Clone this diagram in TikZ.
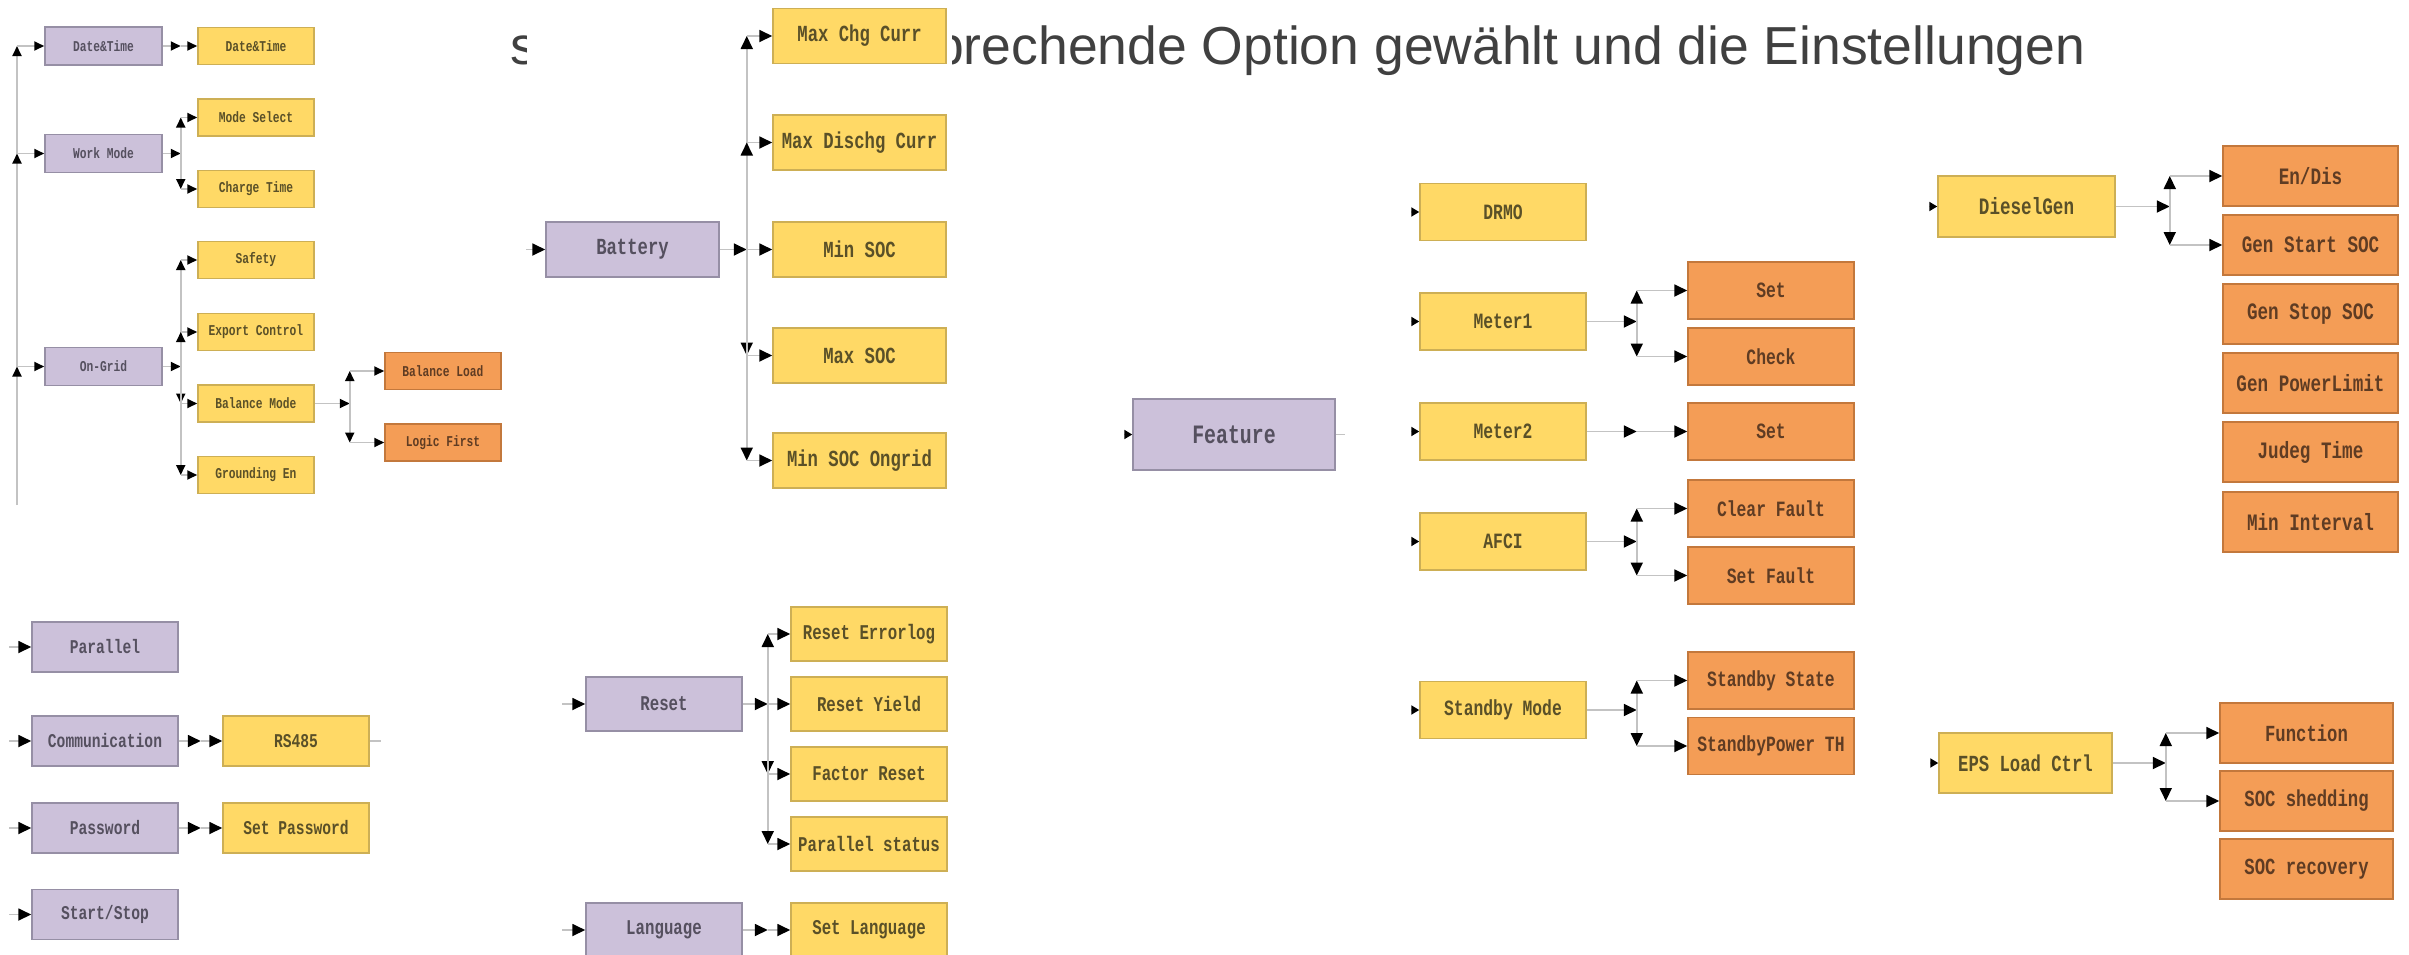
\documentclass[tikz,border=0pt]{standalone}
\usepackage{fontspec}
\setmainfont{Liberation Sans}
\newfontfamily\menufont{Liberation Mono}[FakeStretch=0.75]
\usetikzlibrary{arrows.meta, positioning}
\definecolor{menupurple}{RGB}{204,193,218}
\definecolor{menuedge}{RGB}{150,143,165}
\definecolor{itemyellow}{RGB}{255,217,102}
\definecolor{itemedge}{RGB}{205,175,85}
\definecolor{suborange}{RGB}{244,157,86}
\definecolor{subedge}{RGB}{195,120,60}
\definecolor{linegray}{RGB}{195,195,195}
\definecolor{captiongray}{RGB}{64,64,64}
\definecolor{menutext}{RGB}{85,80,95}
\definecolor{itemtext}{RGB}{90,80,40}
\definecolor{subtext}{RGB}{95,60,35}

\begin{document}
\begin{tikzpicture}[x=1pt, y=-1pt,
  >={Triangle[length=13pt, width=12pt, color=black]},
  box/.style={draw, line width=1.5pt, inner sep=0pt},
  menu/.style={box, fill=menupurple, draw=menuedge, text=menutext},
  item/.style={box, fill=itemyellow, draw=itemedge, text=itemtext},
  sub/.style={box, fill=suborange, draw=subedge, text=subtext},
  boxsize/.style n args={3}{minimum width=#1pt, minimum height=#2pt,
    font=\menufont\bfseries\fontsize{#3}{#3}\selectfont},
  conn/.style={->, draw=linegray, line width=1.8pt},
  stub/.style={draw=linegray, line width=1.8pt},
  smalltip/.style={>={Triangle[length=10pt, width=9pt, color=black]}},
  nubtip/.style={>={Triangle[length=8pt, width=9pt, color=black]}},
  caption/.style={anchor=base west, inner sep=0pt, text=captiongray,
    font=\fontsize{53.5}{53.5}\selectfont}]
\useasboundingbox (0,0) rectangle (2409,954);

% caption behind the menus, partly hidden
\begin{scope}
  \clip (0,0) rectangle (526,100);
  \node[caption] (capstart) at (510,64) {s};
\end{scope}
\begin{scope}
  \clip (952,0) rectangle (2409,100);
  \node[caption] (capend) at (934,64) {prechende Option gewählt und die Einstellungen};
\end{scope}

% left column
\foreach \n/\y/\t in {datetime/46/Date\&Time, workmode/153.5/Work Mode, ongrid/366.5/On-Grid}
  \node[menu, boxsize={117}{38}{15}] (\n) at (103.5,\y) {\t};
\foreach \n/\y/\t in {dtset/46/Date\&Time, modesel/117.5/Mode Select, chgtime/189/Charge Time,
    safety/260/Safety, export/332/Export Control, balmode/403.5/Balance Mode, ground/475/Grounding En}
  \node[item, boxsize={116}{37}{15}] (\n) at (256,\y) {\t};
\foreach \n/\y/\t in {balload/371/Balance Load, logicfirst/442.5/Logic First}
  \node[sub, boxsize={116}{37}{15}] (\n) at (443,\y) {\t};

\coordinate (trunk) at (17,505);
\draw[conn, smalltip] (trunk) -- (trunk |- ongrid.west);
\draw[conn, smalltip] (trunk |- ongrid.west) -- (trunk |- workmode.west);
\draw[conn, smalltip] (trunk |- workmode.west) -- (trunk |- datetime.west);
\foreach \n in {datetime, workmode, ongrid}
  \draw[conn, smalltip] (trunk |- \n.west) -- (\n.west);

\coordinate (dtj) at ([xshift=18pt]datetime.east);
\draw[conn, smalltip] (datetime.east) -- (dtj);
\draw[conn, smalltip] (dtj) -- (dtset.west);
\coordinate (wmj) at ([xshift=18pt]workmode.east);
\coordinate (ogj) at ([xshift=18pt]ongrid.east);
\coordinate (bmj) at ([xshift=35pt]balmode.east);
\foreach \p/\j in {workmode/wmj, ongrid/ogj, balmode/bmj}
  \draw[conn, smalltip] (\p.east) -- (\j);
\foreach \j/\c in {wmj/modesel, wmj/chgtime, ogj/safety, ogj/export, ogj/balmode, ogj/ground,
    bmj/balload, bmj/logicfirst} {
  \draw[conn, smalltip] (\j) -- (\j |- \c.west);
  \draw[conn, smalltip] (\j |- \c.west) -- (\c.west);
}

% lower left
\foreach \n/\y/\t in {parallel/647/Parallel, comm/741/Communication, passwd/828/Password,
    startstop/914.5/{Start/Stop}} {
  \node[menu, boxsize={146}{50}{19.5}] (\n) at (105,\y) {\t};
  \draw[conn] ([xshift=-22pt]\n.west) -- (\n.west);
}
\foreach \n/\y/\t in {rs485/741/RS485, setpw/828/Set Password}
  \node[item, boxsize={146}{50}{19.5}] (\n) at (296,\y) {\t};
\foreach \p/\c in {comm/rs485, passwd/setpw} {
  \draw[conn] (\p.east) -- ([xshift=22pt]\p.east);
  \draw[conn] ([xshift=22pt]\p.east) -- (\c.west);
}
\draw[stub] (rs485.east) -- ([xshift=11pt]rs485.east);

% battery
\node[menu, boxsize={173}{55}{23}] (battery) at (632.5,249.5) {Battery};
\foreach \n/\y/\t in {maxchg/36/Max Chg Curr, maxdis/142.5/Max Dischg Curr, minsoc/249.5/Min SOC,
    maxsoc/355.5/Max SOC, minsocog/460.5/Min SOC Ongrid}
  \node[item, boxsize={173}{55}{23}] (\n) at (859.5,\y) {\t};
\draw[conn] ([xshift=-19pt]battery.west) -- (battery.west);
\coordinate (batj) at ([xshift=27pt]battery.east);
\draw[conn] (battery.east) -- (batj);
\draw[conn] (batj) -- (minsoc.west);
\foreach \c in {maxchg, maxdis, maxsoc, minsocog} {
  \draw[conn] (batj) -- (batj |- \c.west);
  \draw[conn] (batj |- \c.west) -- (\c.west);
}

% reset and language
\node[menu, boxsize={156}{54}{21}] (reset) at (664,704) {Reset};
\node[menu, boxsize={156}{54}{21}] (language) at (664,930) {Language};
\foreach \n/\y/\t in {reseterr/634/Reset Errorlog, resetyield/704/Reset Yield,
    factreset/774/Factor Reset, parstatus/844/Parallel status, setlang/930/Set Language}
  \node[item, boxsize={156}{54}{21}] (\n) at (869,\y) {\t};
\foreach \n in {reset, language}
  \draw[conn] ([xshift=-23pt]\n.west) -- (\n.west);
\coordinate (resj) at ([xshift=25pt]reset.east);
\draw[conn] (reset.east) -- (resj);
\draw[conn] (resj) -- (resetyield.west);
\foreach \c in {reseterr, factreset, parstatus} {
  \draw[conn] (resj) -- (resj |- \c.west);
  \draw[conn] (resj |- \c.west) -- (\c.west);
}
\draw[conn] (language.east) -- ([xshift=25pt]language.east);
\draw[conn] ([xshift=25pt]language.east) -- (setlang.west);

% feature
\node[menu, boxsize={202}{71}{26.5}] (feature) at (1234,434.5) {Feature};
\draw[conn, nubtip] ([xshift=-8pt]feature.west) -- (feature.west);
\draw[stub] (feature.east) -- ([xshift=9pt]feature.east);
\foreach \n/\y/\t in {drmo/212/DRMO, meter1/321.5/Meter1, meter2/431.5/Meter2, afci/541.5/AFCI,
    standby/710/Standby Mode} {
  \node[item, boxsize={166}{57}{21.8}] (\n) at (1503,\y) {\t};
  \draw[conn, nubtip] ([xshift=-8pt]\n.west) -- (\n.west);
}
\foreach \n/\y/\t in {mset/290.5/Set, mcheck/356.5/Check, m2set/431.5/Set, clrfault/508.5/Clear Fault,
    setfault/575.5/Set Fault, stbstate/680.5/Standby State, stbpower/746/StandbyPower TH}
  \node[sub, boxsize={166}{57}{21.8}] (\n) at (1771,\y) {\t};
\foreach \p in {meter1, meter2, afci, standby}
  \draw[conn] (\p.east) -- ([xshift=50pt]\p.east);
\draw[conn] ([xshift=50pt]meter2.east) -- (m2set.west);
\foreach \p/\c in {meter1/mset, meter1/mcheck, afci/clrfault, afci/setfault,
    standby/stbstate, standby/stbpower} {
  \draw[conn] ([xshift=50pt]\p.east) -- ([xshift=50pt]\p.east |- \c.west);
  \draw[conn] ([xshift=50pt]\p.east |- \c.west) -- (\c.west);
}

% diesel generator and eps load
\node[item, boxsize={177}{61}{23.5}] (diesel) at (2026.5,206.5) {DieselGen};
\node[item, boxsize={173}{60}{23}] (epsload) at (2025.5,763) {EPS Load Ctrl};
\foreach \n in {diesel, epsload}
  \draw[conn, nubtip] ([xshift=-8pt]\n.west) -- (\n.west);
\foreach \n/\y/\t in {endis/176/{En/Dis}, genstart/245/Gen Start SOC, genstop/314/Gen Stop SOC,
    genpower/383/Gen PowerLimit, judeg/452/Judeg Time, mininterval/522/Min Interval}
  \node[sub, boxsize={175}{60}{23.5}] (\n) at (2310.5,\y) {\t};
\foreach \n/\y/\t in {function/733/Function, socshed/801/SOC shedding, socrec/869/SOC recovery}
  \node[sub, boxsize={173}{60}{23}] (\n) at (2306.5,\y) {\t};
\coordinate (dgj) at ([xshift=54pt]diesel.east);
\coordinate (epj) at ([xshift=53pt]epsload.east);
\draw[conn] (diesel.east) -- (dgj);
\draw[conn] (epsload.east) -- (epj);
\foreach \j/\c in {dgj/endis, dgj/genstart, epj/function, epj/socshed} {
  \draw[conn] (\j) -- (\j |- \c.west);
  \draw[conn] (\j |- \c.west) -- (\c.west);
}
\end{tikzpicture}
\end{document}
